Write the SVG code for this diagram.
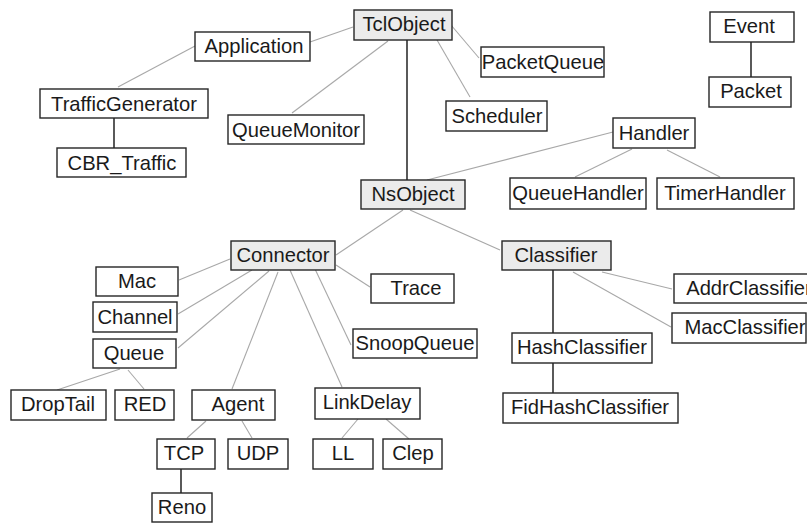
<svg xmlns="http://www.w3.org/2000/svg" width="807" height="523" viewBox="0 0 807 523">
  <style>
    .box { fill: #ffffff; stroke: #262626; stroke-width: 1.4; }
    .core { fill: #ebebeb; }
    .lbl { font-family: "Liberation Sans", Arial, sans-serif; font-size: 20.2px; fill: #1a1a1a; text-anchor: middle; }
    .thin { stroke: #a8a8a8; stroke-width: 1.1; fill: none; }
    .bold { stroke: #303030; stroke-width: 1.6; fill: none; }
  </style>
  <rect width="807" height="523" fill="#ffffff"/>

  <!-- inheritance links -->
  <g id="connectors">
    <line class="thin" x1="353" y1="27" x2="310" y2="42"/>
    <line class="thin" x1="195" y1="46" x2="118" y2="87"/>
    <line class="bold" x1="114" y1="118" x2="114" y2="148"/>
    <line class="thin" x1="388" y1="41" x2="292" y2="113"/>
    <line class="thin" x1="451" y1="25" x2="479" y2="58"/>
    <line class="thin" x1="437" y1="40" x2="470" y2="97"/>
    <line class="bold" x1="407" y1="40" x2="407" y2="180"/>
    <line class="thin" x1="613" y1="132" x2="427" y2="180"/>
    <line class="thin" x1="632" y1="149" x2="575" y2="177"/>
    <line class="thin" x1="667" y1="150" x2="720" y2="177"/>
    <line class="bold" x1="751" y1="42" x2="751" y2="77"/>
    <line class="thin" x1="403" y1="210" x2="336" y2="255"/>
    <line class="thin" x1="410" y1="210" x2="500" y2="250"/>
    <line class="thin" x1="336" y1="265" x2="370" y2="287"/>
    <line class="thin" x1="315" y1="269" x2="351" y2="345"/>
    <line class="thin" x1="290" y1="270" x2="342" y2="387"/>
    <line class="thin" x1="278" y1="272" x2="232" y2="389"/>
    <line class="thin" x1="179" y1="280" x2="230" y2="259"/>
    <line class="thin" x1="178" y1="314" x2="252" y2="270"/>
    <line class="thin" x1="178" y1="348" x2="269" y2="271"/>
    <line class="thin" x1="120" y1="369" x2="57" y2="390"/>
    <line class="thin" x1="128" y1="370" x2="144" y2="389"/>
    <line class="thin" x1="206" y1="421" x2="187" y2="438"/>
    <line class="thin" x1="242" y1="421" x2="252" y2="438"/>
    <line class="bold" x1="181" y1="469" x2="181" y2="493"/>
    <line class="thin" x1="358" y1="419" x2="342" y2="438"/>
    <line class="thin" x1="386" y1="419" x2="409" y2="439"/>
    <line class="bold" x1="553" y1="270" x2="553" y2="333"/>
    <line class="thin" x1="602" y1="272" x2="672" y2="289"/>
    <line class="thin" x1="573" y1="272" x2="671" y2="327"/>
    <line class="bold" x1="553" y1="363" x2="553" y2="393"/>
  </g>

  <g id="TclObject"><rect class="box core" x="354" y="10" width="98" height="30"/><text class="lbl" x="404" y="31">TclObject</text></g>
  <g id="Application"><rect class="box" x="195" y="32" width="115" height="29"/><text class="lbl" x="254" y="53">Application</text></g>
  <g id="TrafficGenerator"><rect class="box" x="40" y="89" width="168" height="29"/><text class="lbl" x="124" y="111">TrafficGenerator</text></g>
  <g id="CBR_Traffic"><rect class="box" x="57" y="148" width="129" height="29"/><text class="lbl" x="122" y="170">CBR_Traffic</text></g>
  <g id="QueueMonitor"><rect class="box" x="228" y="115" width="136" height="29"/><text class="lbl" x="296" y="137">QueueMonitor</text></g>
  <g id="PacketQueue"><rect class="box" x="481" y="47" width="123" height="30"/><text class="lbl" x="543" y="69">PacketQueue</text></g>
  <g id="Scheduler"><rect class="box" x="446" y="101" width="101" height="30"/><text class="lbl" x="497" y="123">Scheduler</text></g>
  <g id="Event"><rect class="box" x="710" y="12" width="84" height="30"/><text class="lbl" x="749" y="33">Event</text></g>
  <g id="Packet"><rect class="box" x="709" y="77" width="82" height="30"/><text class="lbl" x="751" y="98">Packet</text></g>
  <g id="Handler"><rect class="box" x="613" y="118" width="82" height="30"/><text class="lbl" x="654" y="140">Handler</text></g>
  <g id="QueueHandler"><rect class="box" x="510" y="178" width="136" height="31"/><text class="lbl" x="578" y="200">QueueHandler</text></g>
  <g id="TimerHandler"><rect class="box" x="657" y="178" width="137" height="31"/><text class="lbl" x="725" y="200">TimerHandler</text></g>
  <g id="NsObject"><rect class="box core" x="361" y="180" width="104" height="29"/><text class="lbl" x="413" y="201">NsObject</text></g>
  <g id="Connector"><rect class="box core" x="231" y="241" width="104" height="29"/><text class="lbl" x="283" y="262">Connector</text></g>
  <g id="Classifier"><rect class="box core" x="502" y="241" width="109" height="29"/><text class="lbl" x="556" y="262">Classifier</text></g>
  <g id="Trace"><rect class="box" x="371" y="274" width="83" height="29"/><text class="lbl" x="416" y="295">Trace</text></g>
  <g id="SnoopQueue"><rect class="box" x="353" y="329" width="124" height="29"/><text class="lbl" x="415" y="350">SnoopQueue</text></g>
  <g id="AddrClassifier"><rect class="box" x="674" y="274" width="150" height="29"/><text class="lbl" x="749" y="295">AddrClassifier</text></g>
  <g id="MacClassifier"><rect class="box" x="672" y="313" width="134" height="30"/><text class="lbl" x="745" y="334">MacClassifier</text></g>
  <g id="HashClassifier"><rect class="box" x="512" y="333" width="140" height="30"/><text class="lbl" x="582" y="354">HashClassifier</text></g>
  <g id="FidHashClassifier"><rect class="box" x="503" y="393" width="175" height="30"/><text class="lbl" x="590" y="414">FidHashClassifier</text></g>
  <g id="Mac"><rect class="box" x="96" y="267" width="82" height="29"/><text class="lbl" x="137" y="288">Mac</text></g>
  <g id="Channel"><rect class="box" x="93" y="302" width="84" height="30"/><text class="lbl" x="135" y="324">Channel</text></g>
  <g id="Queue"><rect class="box" x="93" y="339" width="83" height="29"/><text class="lbl" x="134" y="360">Queue</text></g>
  <g id="DropTail"><rect class="box" x="11" y="390" width="95" height="30"/><text class="lbl" x="58" y="411">DropTail</text></g>
  <g id="RED"><rect class="box" x="115" y="390" width="59" height="30"/><text class="lbl" x="145" y="411">RED</text></g>
  <g id="Agent"><rect class="box" x="192" y="390" width="83" height="30"/><text class="lbl" x="238" y="411">Agent</text></g>
  <g id="TCP"><rect class="box" x="157" y="439" width="58" height="30"/><text class="lbl" x="184" y="460">TCP</text></g>
  <g id="UDP"><rect class="box" x="228" y="439" width="60" height="30"/><text class="lbl" x="258" y="460">UDP</text></g>
  <g id="Reno"><rect class="box" x="152" y="493" width="60" height="29"/><text class="lbl" x="182" y="514">Reno</text></g>
  <g id="LinkDelay"><rect class="box" x="315" y="388" width="105" height="31"/><text class="lbl" x="367" y="409">LinkDelay</text></g>
  <g id="LL"><rect class="box" x="313" y="439" width="60" height="30"/><text class="lbl" x="343" y="460">LL</text></g>
  <g id="Clep"><rect class="box" x="383" y="439" width="59" height="30"/><text class="lbl" x="413" y="460">Clep</text></g>
</svg>
